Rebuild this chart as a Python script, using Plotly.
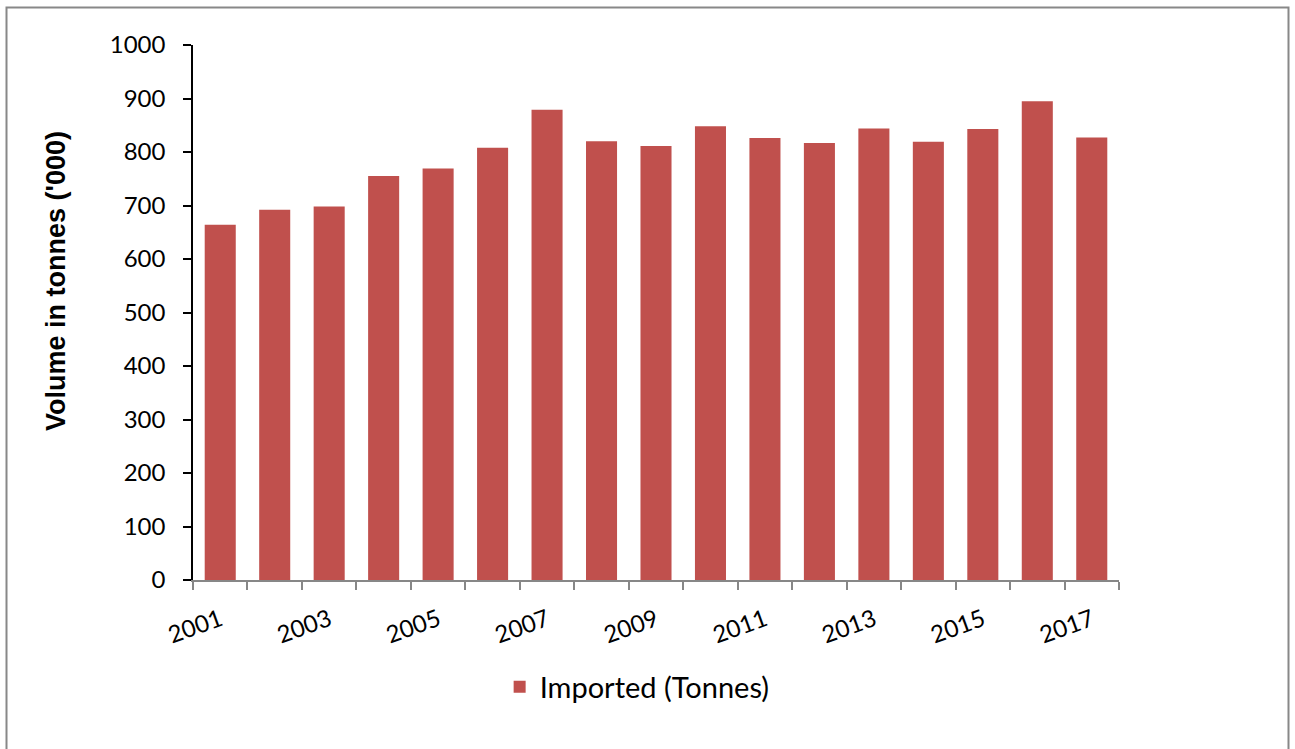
import plotly.graph_objects as go

# Annual import volumes, thousand tonnes
years = [str(y) for y in range(2001, 2018)]
imported = [664, 692, 698, 755, 769, 808, 879, 820, 811, 848, 826, 817, 844, 819, 843, 895, 827]
tick_text = [y if i % 2 == 0 else "" for i, y in enumerate(years)]

series_name = "Imported (Tonnes)"
y_title = "Volume in tonnes ('000)"

W, H = 1295, 749
ML, MR, MT, MB = 193, 176, 45, 169
PW, PH = W - ML - MR, H - MT - MB


def px_x(px):
    return (px - ML) / PW


def px_y(py):
    return (H - MB - py) / PH


BAR = "#C0504D"
TICK_FONT = dict(family="Lato, 'Open Sans', sans-serif", size=24, color="#000000")

fig = go.Figure(
    go.Bar(
        x=years,
        y=imported,
        name=series_name,
        marker=dict(color=BAR, line=dict(width=0)),
        showlegend=True,
    )
)

fig.update_layout(
    width=W,
    height=H,
    margin=dict(l=ML, r=MR, t=MT, b=MB),
    paper_bgcolor="white",
    plot_bgcolor="white",
    bargap=0.43,
    showlegend=True,
    legend=dict(
        orientation="h",
        xref="container",
        yref="container",
        x=0.492,
        xanchor="center",
        y=1 - 687 / H,
        yanchor="middle",
        font=dict(family="Lato, 'Open Sans', sans-serif", size=29, color="#000000"),
        itemsizing="constant",
    ),
    font=TICK_FONT,
)

fig.update_xaxes(
    type="category",
    tickmode="array",
    tickvals=years,
    ticktext=tick_text,
    tickangle=-20,
    tickson="boundaries",
    ticks="outside",
    ticklen=8,
    tickwidth=1.5,
    tickcolor="#878787",
    showline=True,
    linecolor="#878787",
    linewidth=1.5,
    showgrid=False,
    tickfont=TICK_FONT,
    ticklabelstandoff=15,
    fixedrange=True,
)

fig.update_yaxes(
    range=[0, 1000],
    dtick=100,
    tick0=0,
    ticks="outside",
    ticklen=8,
    tickwidth=1.5,
    tickcolor="#000000",
    showline=True,
    linecolor="#000000",
    linewidth=1.5,
    showgrid=False,
    zeroline=False,
    tickfont=TICK_FONT,
    ticklabelstandoff=13,
    fixedrange=True,
)

# Rotated axis title
fig.add_annotation(
    text=y_title,
    xref="paper",
    yref="paper",
    x=px_x(56),
    y=px_y(281),
    xanchor="center",
    yanchor="middle",
    textangle=-90,
    showarrow=False,
    font=dict(family="Liberation Sans, Arial, sans-serif", size=27, color="#000000", weight="bold"),
)

# Chart frame
fig.add_shape(
    type="rect",
    xref="paper",
    yref="paper",
    x0=px_x(6.5),
    x1=px_x(1288.5),
    y0=px_y(800),
    y1=px_y(7.5),
    line=dict(color="#888888", width=2),
    fillcolor="rgba(0,0,0,0)",
    layer="below",
)

fig.write_html("out.html")
